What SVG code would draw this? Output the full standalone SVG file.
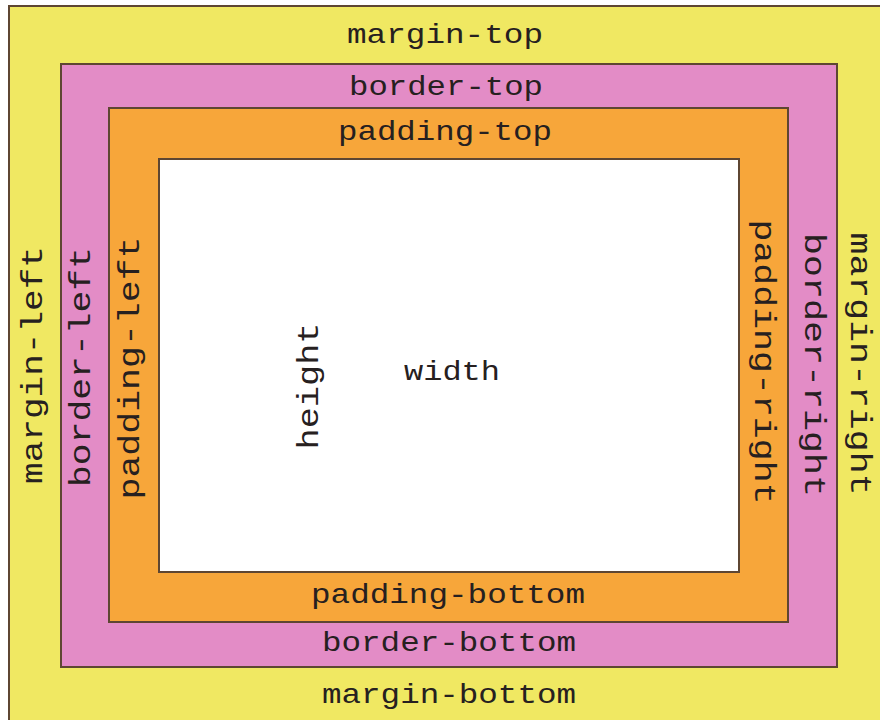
<svg xmlns="http://www.w3.org/2000/svg" width="880" height="720" viewBox="0 0 880 720">
<style>
.box{stroke:#5e4632;stroke-width:2}
.t{font-family:"Liberation Mono","DejaVu Sans Mono",monospace;fill:#262020;text-anchor:middle}
.h{font-size:28px}
.v{font-size:30px}
</style>
<rect width="880" height="720" fill="#ffffff"/>
<g id="margin">
<rect class="box" x="9" y="6" width="880" height="730" fill="#f0e862" stroke="#7a6c52"/>
<text class="t h" x="445" y="43" textLength="196" lengthAdjust="spacingAndGlyphs">margin-top</text>
<text class="t h" x="449" y="703" textLength="254" lengthAdjust="spacingAndGlyphs">margin-bottom</text>
<text class="t v" transform="translate(42,365) rotate(-90)" textLength="238" lengthAdjust="spacingAndGlyphs">margin-left</text>
<text class="t v" transform="translate(851,364) rotate(90)" textLength="263" lengthAdjust="spacingAndGlyphs">margin-right</text>
</g>
<g id="border">
<rect class="box" x="61" y="64" width="776" height="603" fill="#e38cc6"/>
<text class="t h" x="446" y="95" textLength="194" lengthAdjust="spacingAndGlyphs">border-top</text>
<text class="t h" x="449" y="651" textLength="254" lengthAdjust="spacingAndGlyphs">border-bottom</text>
<text class="t v" transform="translate(90,367) rotate(-90)" textLength="240" lengthAdjust="spacingAndGlyphs">border-left</text>
<text class="t v" transform="translate(805,365) rotate(90)" textLength="264" lengthAdjust="spacingAndGlyphs">border-right</text>
</g>
<g id="padding">
<rect class="box" x="109" y="108" width="679" height="514" fill="#f7a63a"/>
<text class="t h" x="445" y="140" textLength="214" lengthAdjust="spacingAndGlyphs">padding-top</text>
<text class="t h" x="448" y="603" textLength="274" lengthAdjust="spacingAndGlyphs">padding-bottom</text>
<text class="t v" transform="translate(139,368) rotate(-90)" textLength="263" lengthAdjust="spacingAndGlyphs">padding-left</text>
<text class="t v" transform="translate(755,362) rotate(90)" textLength="285" lengthAdjust="spacingAndGlyphs">padding-right</text>
</g>
<g id="content">
<rect class="box" x="159" y="159" width="580" height="413" fill="#ffffff"/>
<text class="t h" x="452" y="380" textLength="96" lengthAdjust="spacingAndGlyphs">width</text>
<text class="t v" transform="translate(318,386) rotate(-90)" textLength="127" lengthAdjust="spacingAndGlyphs">height</text>
</g>
</svg>
